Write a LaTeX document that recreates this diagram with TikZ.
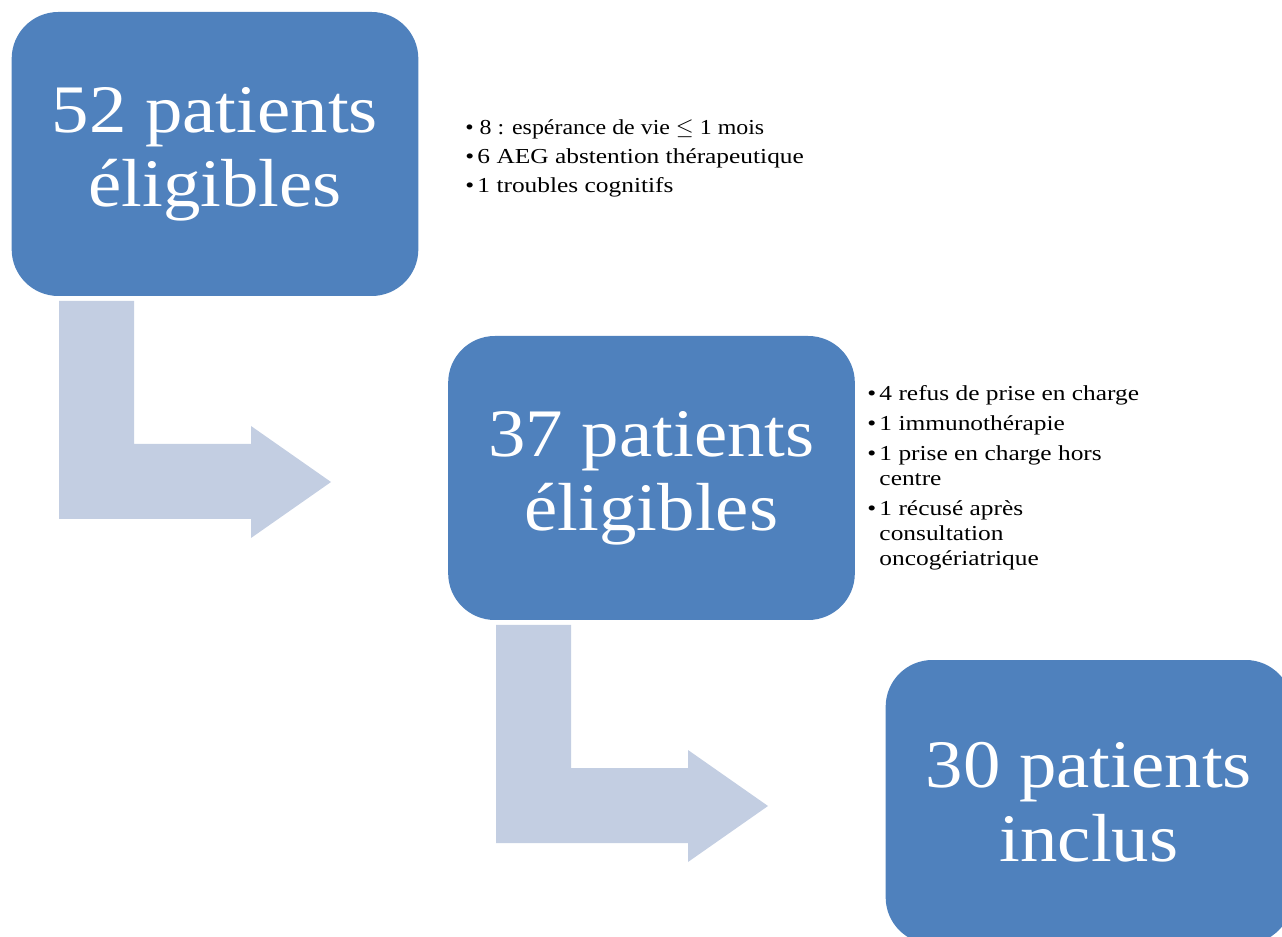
\documentclass[tikz,border=0pt]{standalone}
\usepackage{fontspec}
\setmainfont{Liberation Serif}
\newfontfamily\wideserif[FakeStretch=1.19]{Liberation Serif}
\newfontfamily\bigserif[FakeStretch=1.1]{Liberation Serif}
\newfontfamily\firstserif[FakeStretch=1.12]{Liberation Serif}
\usepackage{tikz}
\usetikzlibrary{positioning}
\definecolor{boxblue}{HTML}{4F81BD}
\definecolor{arrowgrey}{HTML}{C3CEE2}
\newcommand{\bigtext}{\bigserif\fontsize{51}{55.5}\selectfont}
\newcommand{\notetext}{\wideserif\fontsize{16}{18.75}\selectfont}
\newcommand{\nb}{\textbullet\hspace{2.5pt}}
\newcommand{\nbgap}{\phantom{\textbullet}\hspace{2.5pt}}

\begin{document}
\begin{tikzpicture}[x=0.75pt,y=-0.75pt,
    stagebox/.style={rectangle,fill=boxblue,rounded corners=35pt,inner sep=0pt,
        minimum width=305pt,minimum height=213pt,text=white,align=center,font=\bigtext},
    notebox/.style={anchor=north west,inner sep=0pt,align=left,font=\notetext},
    bentarrow/.style={fill=arrowgrey}]
    \clip (0,0) rectangle (1282,937);
    \node (eligible1) at (215,154)    [stagebox] {52 patients\\éligibles};
    \node (eligible2) at (651.5,478)  [stagebox] {37 patients\\éligibles};
    \node (included)  at (1089,802)   [stagebox] {30 patients\\inclus};
    \node (excluded1) at (465,119) [notebox,font=\wideserif\fontsize{16}{21.75}\selectfont]
        {{\firstserif\textbullet\ 8 : espérance de vie $\leq$ 1 mois}\\\nb6 AEG abstention thérapeutique\\\nb1 troubles cognitifs};
    \node (excluded2) at (867,385) [notebox]
        {\nb4 refus de prise en charge\\[3.75pt]\nb1 immunothérapie\\[3.75pt]\nb1 prise en charge hors\\\nbgap centre\\[3.75pt]\nb1 récusé après\\\nbgap consultation\\\nbgap oncogériatrique};
    % bent arrows between the stages
    \foreach \ax/\ay in {59/301, 496/625}
        \fill[bentarrow,shift={(\ax,\ay)}] (0,0) -- (75,0) -- (75,143) -- (192,143) -- (192,125)
            -- (272,181) -- (192,237) -- (192,218) -- (0,218) -- cycle;
\end{tikzpicture}
\end{document}
